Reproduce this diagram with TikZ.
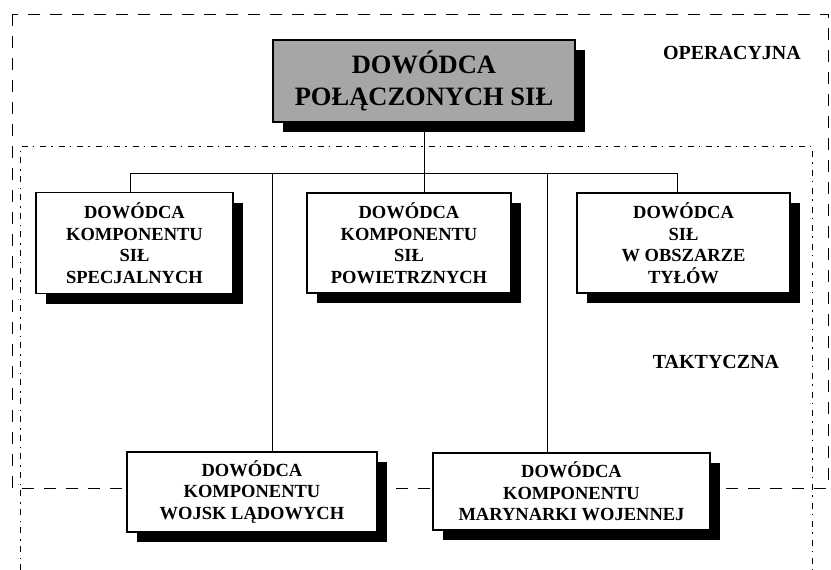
\documentclass[tikz,border=0pt]{standalone}
\usepackage{fontspec}
\setmainfont{Liberation Serif}
\usetikzlibrary{shadows, positioning, calc}

\tikzset{
  box/.style={draw, line width=1.8pt, fill=white, align=center, inner sep=0pt,
    font=\bfseries\fontsize{18.5}{21.5}\selectfont,
    drop shadow={shadow xshift=10pt, shadow yshift=-10pt, fill=black, opacity=1}},
  topbox/.style={box, fill=black!35, line width=2.2pt,
    font=\bfseries\fontsize{26.5}{32}\selectfont},
  livello/.style={font=\bfseries\fontsize{20}{24}\selectfont},
  conn/.style={line width=0.8pt}
}

\begin{document}
\begin{tikzpicture}[x=1pt, y=-1pt]
        \useasboundingbox (0,0) rectangle (831,570);
        % riquadro livello operacyjny
        \draw[line width=0.8pt, dash pattern=on 12pt off 10pt] (12,14) rectangle (828,488);
        % riquadro livello taktyczny
        \draw[line width=0.8pt, dash pattern=on 6pt off 5pt on 1.5pt off 6pt] (20,570) -- (20,146) -- (812,146) -- (812,570);
        % etichette dei livelli
        \node[livello] (oper) at (732,53) {OPERACYJNA};
        \node[livello] (takt) at (716,362) {TAKTYCZNA};
        % dowodca glowny
        \node[topbox, minimum width=302pt, minimum height=82pt] (dpc) at (424,81) {DOWÓDCA\\POŁĄCZONYCH SIŁ};
        % punti della linea orizzontale
        \coordinate (busL) at (130,173);
        \coordinate (busR) at (677,173);
        \coordinate (busWL) at (272,173);
        \coordinate (busMW) at (547,173);
        % connettori
        \draw[conn] (dpc.south) -- (dpc.south |- busL);
        \draw[conn] (busL) -- (busR);
        % secondo livello
        \node[box, minimum width=197pt, minimum height=101pt] (specj) at (134.5,243) {DOWÓDCA\\KOMPONENTU\\SIŁ\\SPECJALNYCH};
        \node[box, minimum width=204pt, minimum height=100pt] (powietrz) at (409,243) {DOWÓDCA\\KOMPONENTU\\SIŁ\\POWIETRZNYCH};
        \node[box, minimum width=213pt, minimum height=100pt] (tyly) at (683.5,243) {DOWÓDCA\\SIŁ\\W OBSZARZE\\TYŁÓW};
        % terzo livello
        \node[box, minimum width=250pt, minimum height=80pt] (ladowe) at (252,492) {DOWÓDCA\\KOMPONENTU\\WOJSK LĄDOWYCH};
        \node[box, minimum width=277pt, minimum height=77pt] (mw) at (571.5,491.5) {DOWÓDCA\\KOMPONENTU\\MARYNARKI WOJENNEJ};
        % discese verso i riquadri
        \draw[conn] (busL) -- (busL |- specj.north);
        \draw[conn] (dpc.south |- busL) -- (dpc.south |- powietrz.north);
        \draw[conn] (busR) -- (busR |- tyly.north);
        \draw[conn] (busWL) -- (busWL |- ladowe.north);
        \draw[conn] (busMW) -- (busMW |- mw.north);
    \end{tikzpicture}
\end{document}
